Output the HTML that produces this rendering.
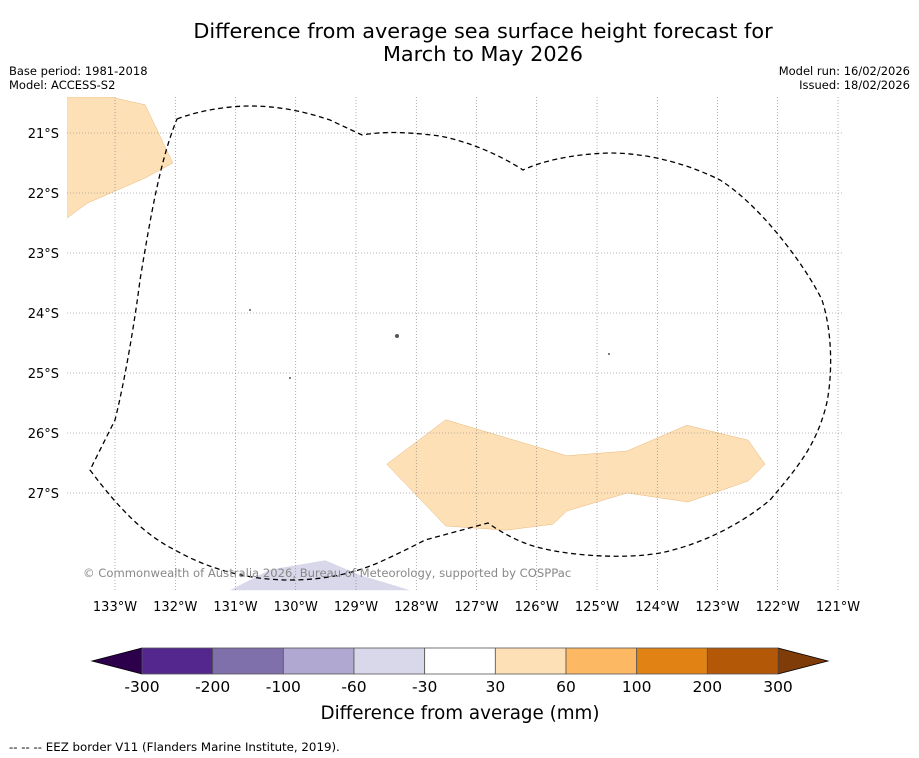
<!DOCTYPE html>
<html><head><meta charset="utf-8"><style>
html,body{margin:0;padding:0;background:#fff;width:919px;height:758px;overflow:hidden;font-family:"DejaVu Sans","Liberation Sans",sans-serif;}
svg{position:absolute;left:0;top:0}
</style></head><body>
<svg id="chart" width="919" height="758" font-family="DejaVu Sans, Liberation Sans, sans-serif">
<text x="483" y="38" text-anchor="middle" font-size="20.8">Difference from average sea surface height forecast for</text>
<text x="483" y="61" text-anchor="middle" font-size="20.8">March to May 2026</text>
<text x="9" y="75" font-size="11.5">Base period: 1981-2018</text>
<text x="9" y="89" font-size="11.5">Model: ACCESS-S2</text>
<text x="910" y="75" font-size="11.5" text-anchor="end">Model run: 16/02/2026</text>
<text x="910" y="89" font-size="11.5" text-anchor="end">Issued: 18/02/2026</text>
<g id="map"></g>
<g id="cbar"></g>
<text x="460" y="719" text-anchor="middle" font-size="18.3">Difference from average (mm)</text>
<text x="9" y="751" font-size="11.8">--  --  -- EEZ border V11 (Flanders Marine Institute, 2019).</text>
</svg>
<script>
const lonTicks=[-133,-132,-131,-130,-129,-128,-127,-126,-125,-124,-123,-122,-121];
const latTicks=[-21,-22,-23,-24,-25,-26,-27];
const cbarLevels=[-300,-200,-100,-60,-30,30,60,100,200,300];
const cbarColors=["#54278f","#7f70ab","#b0a8d0","#d8d8ea","#ffffff","#fee0b6","#fdb863","#e08214","#b35806"];
const posNW=[[-133.8,-20.4],[-133.08,-20.4],[-132.5,-20.53],[-132.04,-21.5],[-132.5,-21.75],[-133.46,-22.17],[-133.8,-22.42]];
const posSE=[[-128.49,-26.52],[-127.51,-25.78],[-125.5,-26.38],[-124.5,-26.3],[-123.51,-25.87],[-122.49,-26.12],[-122.21,-26.52],[-122.49,-26.8],[-123.49,-27.15],[-124.5,-27.0],[-125.5,-27.3],[-125.73,-27.52],[-126.51,-27.62],[-127.51,-27.55]];
const negS=[[-131.09,-28.62],[-130.43,-28.28],[-129.51,-28.12],[-128.93,-28.37],[-128.1,-28.62]];
const X=lon=>115+(lon+133)*60.25;
const Y=lat=>133+(-21-lat)*60;
const NS="http://www.w3.org/2000/svg";
function mk(t,a,p){const e=document.createElementNS(NS,t);for(const k in a)e.setAttribute(k,a[k]);p.appendChild(e);return e;}
const map=document.getElementById('map');
const defs=mk('clipPath',{id:'clip'},map);mk('rect',{x:67,y:97,width:776,height:494},defs);
const g=mk('g',{'clip-path':'url(#clip)'},map);
function poly(pts,fill,name){const p=mk('polygon',{points:pts.map(d=>X(d[0])+','+Y(d[1])).join(' '),fill:fill,stroke:fill==='#fee0b6'?'#e8b77a':'none','stroke-width':0.5},g);

}
poly(posNW,'#fee0b6','positive-anomaly-northwest');
poly(posSE,'#fee0b6','positive-anomaly-southeast');
poly(negS,'#d8d8ea','negative-anomaly-south');
lonTicks.forEach(l=>{const x=X(l);const ln=mk('line',{x1:x,x2:x,y1:97,y2:591,stroke:'#777','stroke-width':0.6,'stroke-dasharray':'1,2'},g);


const t=mk('text',{x:x,y:611,'text-anchor':'middle','font-size':13},map);t.textContent=(-l)+'°W';

});
latTicks.forEach(l=>{const y=Y(l);const ln=mk('line',{x1:67,x2:843,y1:y,y2:y,stroke:'#777','stroke-width':0.6,'stroke-dasharray':'1,2'},g);


const t=mk('text',{x:59,y:y+5,'text-anchor':'end','font-size':13},map);t.textContent=(-l)+'°S';

});
const eez=mk('path',{d:'M177,119 C200,110 230,106 250,106 C275,106 300,110 330,120 L362,135 C380,132 400,131 440,136 C470,142 500,155 523,170 C540,162 570,154 610,153 C650,153 690,165 720,180 C760,205 805,265 822,300 C835,340 831,390 825,410 C815,445 800,465 770,500 C740,525 700,545 660,553 C620,560 560,555 530,545 C510,538 495,528 488,523 L425,540 C410,548 395,555 380,562 C350,575 320,580 290,580 C250,580 210,570 175,550 C145,535 120,510 90,470 L115,420 C125,380 135,320 140,280 C150,220 160,160 177,119 Z',fill:'none',stroke:'#000','stroke-width':1.3,'stroke-dasharray':'5,3.5'},g);


[[250,310,1],[397,336,2],[609,354,1],[290,378,1]].forEach(d=>{const c=mk('circle',{cx:d[0],cy:d[1],r:d[2],fill:'#555'},g);

});
const cp=mk('text',{x:83,y:577,'font-size':11.6,fill:'#888'},map);cp.textContent='© Commonwealth of Australia 2026, Bureau of Meteorology, supported by COSPPac';


const cb=document.getElementById('cbar');
const cx0=142,cw=(778-142)/cbarColors.length,cy0=648,ch=26;
const lt=mk('polygon',{points:`92,661 ${cx0},${cy0} ${cx0},${cy0+ch}`,fill:'#2d004b',stroke:'#000','stroke-width':0.8},cb);


const rt=mk('polygon',{points:`828,661 778,${cy0} 778,${cy0+ch}`,fill:'#7f3b08',stroke:'#000','stroke-width':0.8},cb);


cbarColors.forEach((c,i)=>{const r=mk('rect',{x:cx0+i*cw,y:cy0,width:cw,height:ch,fill:c,stroke:'#555','stroke-width':0.8},cb);

});
cbarLevels.forEach((v,i)=>{const t=mk('text',{x:cx0+i*cw,y:692,'text-anchor':'middle','font-size':15.5},cb);t.textContent=v;

});
</script>
</body></html>
